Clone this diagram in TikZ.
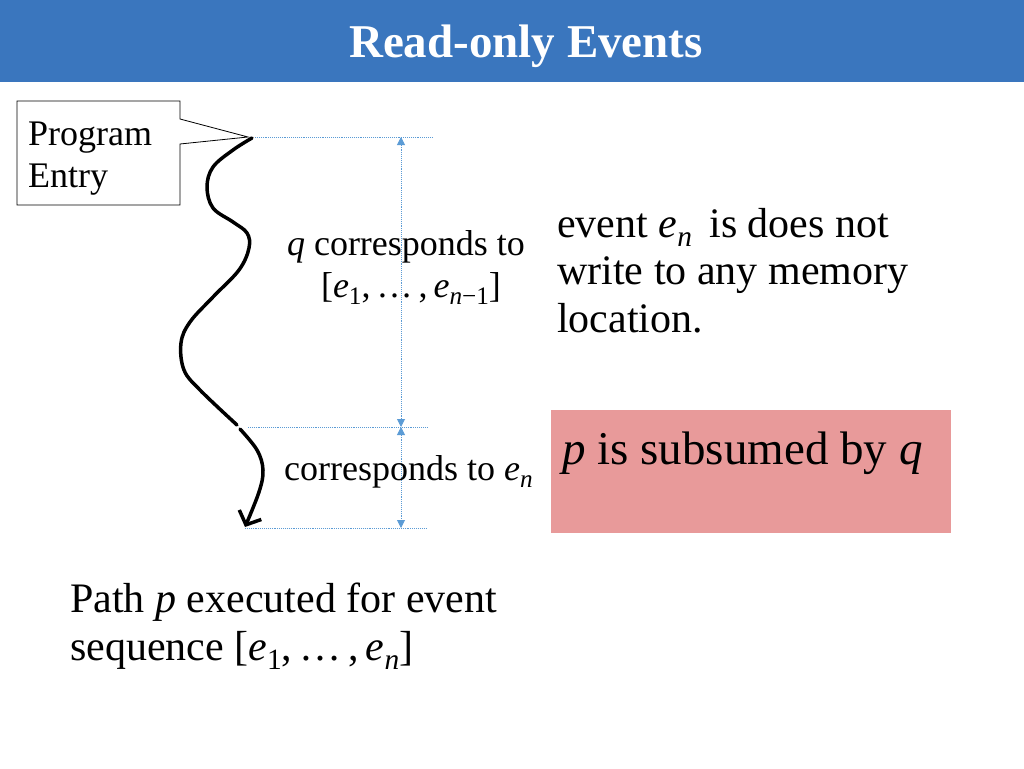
\documentclass[tikz,border=0pt]{standalone}
\usepackage{fontspec}
\setmainfont{Liberation Serif}
\usetikzlibrary{arrows.meta}
\definecolor{titleblue}{HTML}{3A76BE}
\definecolor{guide}{HTML}{5B9BD5}
\definecolor{boxred}{HTML}{E89A9A}
\newcommand\mv[1]{\textit{#1}}
\newcommand\lowsub[1]{\raisebox{-0.22em}{\fontsize{0.7\dimexpr\fontdimen6\font\relax}{1em}\selectfont #1}}
\begin{document}
\begin{tikzpicture}[x=1pt,y=-1pt,
  guideline/.style={guide, densely dotted, line width=0.9pt},
  dimarrow/.style={guide, densely dotted, line width=0.9pt,
    {Triangle[length=8pt,width=8pt]}-{Triangle[length=8pt,width=8pt]}},
  pathline/.style={line width=3.5pt, line cap=round, line join=round},
  lbl/.style={inner sep=0pt, anchor=base west},
  clbl/.style={inner sep=0pt, anchor=base},
  small/.style={font=\fontsize{36}{42}\selectfont},
  big/.style={font=\fontsize{42}{48}\selectfont}]
\useasboundingbox (0,0) rectangle (1024,768);
% title bar
\fill[titleblue] (0,0) rectangle (1024,82);
\node[clbl, text=white, font=\fontsize{47}{52}\selectfont\bfseries] (title) at (526,58) {Read-only Events};
% callout
\draw[line width=0.8pt, fill=white] (17,101) -- (180,101) -- (180,119) -- (248,137) -- (180,144) -- (180,205) -- (17,205) -- cycle;
\node[lbl, small] (entry1) at (28,145) {Program};
\node[lbl, small] (entry2) at (28,187) {Entry};
% wavy execution path
\draw[pathline] plot[smooth, tension=0.6] coordinates {(252,138) (233,150) (213,167) (207,187) (213,208) (233,222) (247,233) (249,248) (239,270) (213,297) (190,322) (181,343) (184,370) (200,390) (237,425)};
\draw[pathline, -{Straight Barb[length=11pt,width=24pt,line width=3.5pt]}] plot[smooth, tension=0.6] coordinates {(240,429) (257,450) (263,470) (259,492) (245,527)};
% guide lines
\coordinate (g1a) at (255,137); \coordinate (g1b) at (433,137);
\coordinate (g2a) at (248,427); \coordinate (g2b) at (427,427);
\coordinate (g3a) at (245,528); \coordinate (g3b) at (426,528);
\draw[guideline] (g1a) -- (g1b);
\draw[guideline] (g2a) -- (g2b);
\draw[guideline] (g3a) -- (g3b);
\coordinate (v1) at (401,137);
\coordinate (v2) at (401,427);
\coordinate (v3) at (401,528);
\draw[dimarrow] (v1) -- (v2);
\draw[dimarrow] (v2) -- (v3);
% labels
\node[clbl, small] (qlab) at (406,255) {\mv{q} corresponds to};
\node[clbl, small] (qseq) at (411,297) {[\mv{e}\lowsub{1},\,…\,,\,\mv{e}\lowsub{\mv{n}−1}]};
\node[lbl, small] (enlab) at (284,480) {corresponds to \mv{e}\lowsub{\mv{n}}};
% right text
\node[lbl, big] (r1) at (557,237) {event \mv{e}\lowsub{\mv{n}}\, is does not};
\node[lbl, big] (r2) at (557,284) {write to any memory};
\node[lbl, big] (r3) at (557,332) {location.};
% red box
\node[fill=boxred, inner sep=0pt, minimum width=400pt, minimum height=123pt, anchor=north west] (box) at (551,410) {};
\node[lbl, font=\fontsize{47}{52}\selectfont] (subs) at (562,464) {\mv{p} is subsumed by \mv{q}};
% bottom text
\node[lbl, big] (b1) at (70,612) {Path \mv{p} executed for event};
\node[lbl, big] (b2) at (70,660) {sequence [\mv{e}\lowsub{1},\,…\,,\,\mv{e}\lowsub{\mv{n}}]};
\end{tikzpicture}
\end{document}
